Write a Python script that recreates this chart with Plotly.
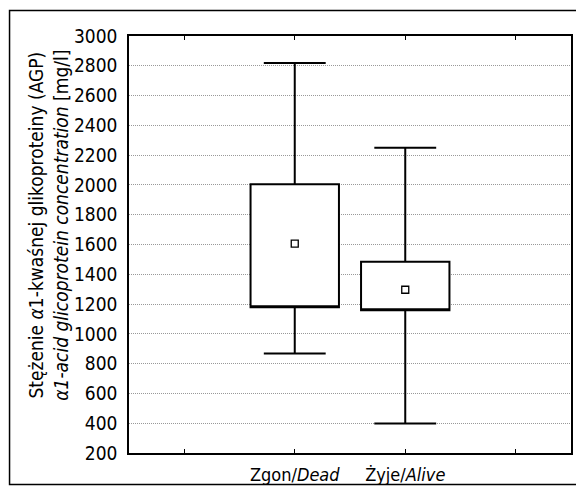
import plotly.graph_objects as go

categories = ["Zgon/<i>Dead</i>", "Żyje/<i>Alive</i>"]
positions = [0, 1]
whisker_low = [868, 398]
q1 = [1178, 1158]
center = [1606, 1296]
q3 = [2005, 1485]
whisker_high = [2818, 2250]
y_ticks = list(range(200, 3001, 200))
y_title = "Stężenie <i>α</i>1-kwaśnej glikoproteiny (AGP)<br><i>α1-acid glicoprotein concentration</i> [mg/l]"

FONT = "Liberation Sans Narrow, DejaVu Sans Condensed, sans-serif"

fig = go.Figure()
for i in range(len(categories)):
    fig.add_trace(go.Box(
        x=[positions[i]],
        q1=[q1[i]], median=[q1[i]], q3=[q3[i]],
        lowerfence=[whisker_low[i]], upperfence=[whisker_high[i]],
        width=0.8, whiskerwidth=0.7,
        fillcolor="white",
        line=dict(color="black", width=2),
        boxpoints=False, hoverinfo="skip", showlegend=False,
    ))
fig.add_trace(go.Scatter(
    x=positions, y=center, mode="markers",
    marker=dict(symbol="square-open", size=7, color="black", line=dict(width=1.3)),
    showlegend=False, hoverinfo="skip",
))

# page body adds an 8px margin, so the figure is sized to the visible area
W, H = 576, 488
L, R, T, B = 121, 565, 28, 453
pw, ph = R - L, B - T

def px(x):
    return (x - L) / pw

def py(y):
    return (B - y) / ph

fig.add_shape(type="rect", xref="paper", yref="paper",
              x0=px(1), x1=px(572), y0=py(485), y1=py(2),
              line=dict(color="black", width=1.5), fillcolor="rgba(0,0,0,0)", layer="below")

fig.add_annotation(
    text=y_title, textangle=-90, showarrow=False,
    xref="paper", yref="paper", x=px(40), y=py(221),
    xanchor="center", yanchor="middle",
    font=dict(family=FONT, size=19, color="black"),
)

fig.update_layout(
    width=W, height=H,
    margin=dict(l=L, r=W - R, t=T, b=H - B),
    paper_bgcolor="white", plot_bgcolor="white",
    font=dict(family=FONT, size=18, color="black"),
    xaxis=dict(
        range=[-1.5, 2.5],
        tickvals=[-1, 0, 1, 2],
        ticktext=[""] + categories + [""],
        ticks="inside", ticklen=4, tickcolor="black",
        showline=True, linecolor="black", linewidth=1.5, mirror="ticks",
        showgrid=False, zeroline=False, ticklabelstandoff=5,
        tickfont=dict(size=18),
    ),
    yaxis=dict(
        range=[200, 3000],
        tickvals=y_ticks,
        ticks="", showline=True, linecolor="black", linewidth=1.5, mirror=True,
        showgrid=True, gridcolor="#999999", griddash="1px,1px", gridwidth=1,
        zeroline=False, ticklabelstandoff=6,
        tickfont=dict(size=19),
    ),
)

fig.write_html("out.html")
